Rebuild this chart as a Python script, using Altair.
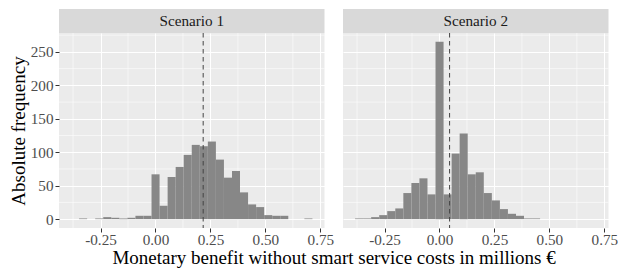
import altair as alt
import pandas as pd

# ---- data ----
bin_width = 0.0366
bin_left = [-0.384, -0.3474, -0.3108, -0.2742, -0.2376, -0.201, -0.1644, -0.1278,
            -0.0912, -0.0546, -0.018, 0.0186, 0.0552, 0.0918, 0.1284, 0.165,
            0.2016, 0.2382, 0.2748, 0.3114, 0.348, 0.3846, 0.4212, 0.4578,
            0.4944, 0.531, 0.5676, 0.6042, 0.6408, 0.6774]
counts_s1 = [0, 1, 0, 1, 3, 2, 1, 2, 5, 5, 67, 20, 63, 78, 96, 111, 109, 116, 89, 62,
             72, 40, 22, 18, 6, 5, 5, 0, 0, 1]
counts_s2 = [1, 1, 3, 6, 12, 16, 39, 54, 61, 37, 265, 37, 98, 128, 67, 70, 39, 28, 15, 8,
             5, 1, 1, 0, 0, 0, 0, 0, 0, 0]
panels = ["Scenario 1", "Scenario 2"]
means = [0.217, 0.046]
x_major = [-0.25, 0.0, 0.25, 0.5, 0.75]
x_minor = [-0.375, -0.125, 0.125, 0.375, 0.625]
y_major = [0, 50, 100, 150, 200, 250]
y_minor = [25, 75, 125, 175, 225, 275]

FONT = "Liberation Serif"
W, H, SH = 265.5, 195, 24
GAP = 18

x_scale = alt.Scale(domain=[-0.4389, 0.7689], nice=False, zero=False)
y_scale = alt.Scale(domain=[-13.25, 278.25], nice=False, zero=False)


def plot_panel(idx, counts):
    first = idx == 0
    df = pd.DataFrame({
        "lo": bin_left,
        "hi": [b + bin_width for b in bin_left],
        "n": counts,
    })
    xaxis_kw = dict(
        values=x_major, grid=True, gridColor="white", gridWidth=1.1,
        labelExpr="(datum.value < 0 ? '-' : '') + format(abs(datum.value), '.2f')",
        domain=False, tickColor="#333333", tickSize=4, labelColor="#4d4d4d",
        labelFont=FONT, labelFontSize=15.2, labelPadding=0.5,
        labelOverlap=False, labelFlush=False,
    )
    if first:
        xaxis = alt.Axis(title="Monetary benefit without smart service costs in millions €",
                         titleFont=FONT, titleFontSize=19, titleFontWeight="normal",
                         titleColor="black", titleX=(2 * W + GAP) / 2, titleAlign="center",
                         titlePadding=1, **xaxis_kw)
    else:
        xaxis = alt.Axis(title=None, **xaxis_kw)

    yaxis_kw = dict(values=y_major, grid=True, gridColor="white", gridWidth=1.1, domain=False)
    if first:
        yaxis = alt.Axis(
            title="Absolute frequency", titleFont=FONT, titleFontSize=19,
            titleFontWeight="normal", titleColor="black", titlePadding=2,
            format="d", tickColor="#333333", tickSize=4, labelColor="#4d4d4d",
            labelFont=FONT, labelFontSize=15.2, labelPadding=2, labelOverlap=False,
            **yaxis_kw)
    else:
        yaxis = alt.Axis(title=None, labels=False, ticks=False, **yaxis_kw)

    xminor = alt.Chart(pd.DataFrame({"v": x_minor})).mark_rule(
        color="white", strokeWidth=0.55
    ).encode(x=alt.X("v:Q", scale=x_scale, axis=xaxis))
    yminor = alt.Chart(pd.DataFrame({"v": y_minor})).mark_rule(
        color="white", strokeWidth=0.55
    ).encode(y=alt.Y("v:Q", scale=y_scale, axis=yaxis))
    bars = alt.Chart(df).mark_rect(color="#878787").encode(
        x=alt.X("lo:Q", scale=x_scale, axis=xaxis),
        x2="hi:Q",
        y=alt.Y("n:Q", scale=y_scale, axis=yaxis),
        y2=alt.datum(0),
    )
    vline = alt.Chart(pd.DataFrame({"m": [means[idx]]})).mark_rule(
        color="#444444", strokeDash=[4.5, 3.5], strokeWidth=1
    ).encode(x=alt.X("m:Q", scale=x_scale, axis=xaxis))
    return alt.layer(xminor, yminor, bars, vline).properties(
        width=W, height=H, view=alt.ViewBackground(fill="#ebebeb", stroke=None)
    )


def strip_panel(idx):
    sdf = pd.DataFrame({"label": [panels[idx]]})
    srect = alt.Chart(sdf).mark_rect(color="#d9d9d9").encode(
        x=alt.value(0), x2=alt.value(W), y=alt.value(0), y2=alt.value(SH)
    )
    stext = alt.Chart(sdf).mark_text(
        font=FONT, fontSize=15.2, color="#1a1a1a", baseline="middle", align="center"
    ).encode(text="label:N", x=alt.value(W / 2), y=alt.value(SH / 2))
    return alt.layer(srect, stext).properties(
        width=W, height=SH, view=alt.ViewBackground(stroke=None)
    )


chart = alt.concat(
    strip_panel(0), strip_panel(1),
    plot_panel(0, counts_s1), plot_panel(1, counts_s2),
    columns=2, spacing={"row": 0, "column": GAP}, bounds="flush",
).properties(
    padding={"left": 1, "top": 1, "right": 0, "bottom": 0},
    background="white",
).configure_view(stroke=None)

chart.save("out.html", embed_options={"renderer": "svg", "actions": False})
